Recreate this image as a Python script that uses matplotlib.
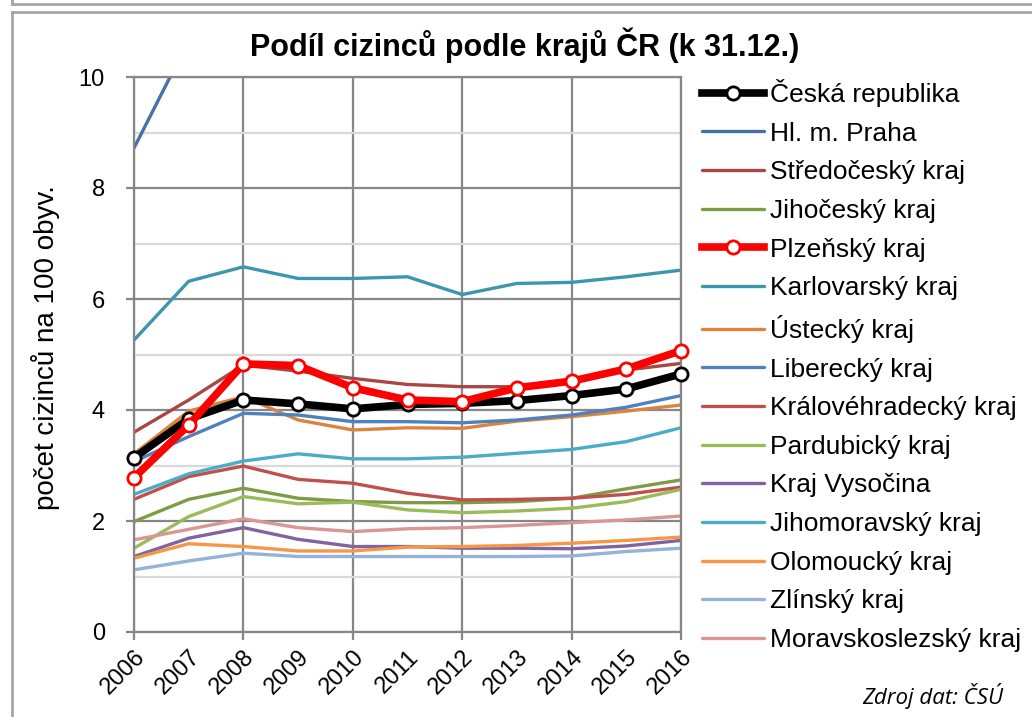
import matplotlib
matplotlib.use("Agg")
import matplotlib.pyplot as plt
from matplotlib.lines import Line2D

plt.rcParams["font.family"] = ["Liberation Sans", "DejaVu Sans"]

# data: podíl cizinců na 100 obyvatel
roky = list(range(2006, 2017))

ceska_republika = [3.14, 3.84, 4.18, 4.11, 4.02, 4.10, 4.12, 4.17, 4.26, 4.38, 4.65]
praha = [8.72, 10.66, 12.1, 12.2, 12.2, 13.1, 12.9, 13.1, 13.4, 13.9, 14.6]
stredocesky = [3.60, 4.18, 4.81, 4.70, 4.57, 4.46, 4.42, 4.42, 4.50, 4.72, 4.84]
jihocesky = [1.99, 2.39, 2.59, 2.41, 2.35, 2.33, 2.33, 2.35, 2.41, 2.58, 2.74]
plzensky = [2.78, 3.73, 4.83, 4.80, 4.40, 4.18, 4.15, 4.40, 4.52, 4.74, 5.07]
karlovarsky = [5.26, 6.32, 6.58, 6.37, 6.37, 6.40, 6.08, 6.28, 6.30, 6.40, 6.52]
ustecky = [3.21, 3.98, 4.24, 3.82, 3.64, 3.68, 3.67, 3.80, 3.88, 3.98, 4.09]
liberecky = [3.07, 3.52, 3.94, 3.91, 3.79, 3.79, 3.77, 3.82, 3.91, 4.05, 4.26]
kralovehradecky = [2.39, 2.80, 2.99, 2.75, 2.68, 2.50, 2.38, 2.39, 2.41, 2.48, 2.61]
pardubicky = [1.51, 2.08, 2.44, 2.31, 2.34, 2.20, 2.15, 2.18, 2.23, 2.35, 2.57]
vysocina = [1.36, 1.69, 1.88, 1.67, 1.54, 1.54, 1.51, 1.51, 1.50, 1.55, 1.65]
jihomoravsky = [2.48, 2.85, 3.08, 3.21, 3.12, 3.12, 3.15, 3.22, 3.29, 3.43, 3.68]
olomoucky = [1.33, 1.59, 1.54, 1.46, 1.46, 1.53, 1.54, 1.56, 1.60, 1.65, 1.71]
zlinsky = [1.12, 1.28, 1.42, 1.36, 1.36, 1.36, 1.36, 1.36, 1.37, 1.45, 1.51]
moravskoslezsky = [1.66, 1.85, 2.04, 1.88, 1.81, 1.86, 1.88, 1.92, 1.97, 2.02, 2.09]

serie = [
    ("Česká republika", ceska_republika, "#000000"),
    ("Hl. m. Praha", praha, "#4572A7"),
    ("Středočeský kraj", stredocesky, "#AA4643"),
    ("Jihočeský kraj", jihocesky, "#7F9C45"),
    ("Plzeňský kraj", plzensky, "#FF0000"),
    ("Karlovarský kraj", karlovarsky, "#3D96AE"),
    ("Ústecký kraj", ustecky, "#DB843D"),
    ("Liberecký kraj", liberecky, "#4F81BD"),
    ("Královéhradecký kraj", kralovehradecky, "#C0504D"),
    ("Pardubický kraj", pardubicky, "#9BBB59"),
    ("Kraj Vysočina", vysocina, "#8064A2"),
    ("Jihomoravský kraj", jihomoravsky, "#4BACC6"),
    ("Olomoucký kraj", olomoucky, "#F79646"),
    ("Zlínský kraj", zlinsky, "#95B3D7"),
    ("Moravskoslezský kraj", moravskoslezsky, "#D99694"),
]
zvyraznene = ["Česká republika", "Plzeňský kraj"]

W, H = 1032, 717
fig = plt.figure(figsize=(W / 100, H / 100), dpi=100)
ax = fig.add_axes([134 / W, 1 - 632 / H, (681 - 134) / W, (632 - 77) / H])

for nazev, hodnoty, barva in serie:
    if nazev in zvyraznene:
        ax.plot(roky, hodnoty, color=barva, lw=5.5, marker="o", ms=9.5,
                mfc="white", mec=barva, mew=2, label=nazev, clip_on=False,
                zorder=3)
    else:
        ax.plot(roky, hodnoty, color=barva, lw=2.4, label=nazev,
                solid_capstyle="round", zorder=2)

grid_c = "#878787"
ax.set_xlim(2006, 2016)
ax.set_ylim(0, 10)
ax.set_yticks(range(0, 11, 2))
ax.set_yticks(range(1, 10, 2), minor=True)
sude = [r for r in roky if r % 2 == 0]
liche = [r for r in roky if r % 2 == 1]
ax.set_xticks(sude, [str(r) for r in sude])
ax.set_xticks(liche, [str(r) for r in liche], minor=True)

ax.grid(True, which="major", color=grid_c, lw=1.6)
ax.grid(True, which="minor", axis="y", color="#D9D9D9", lw=1.6)
ax.set_axisbelow(True)
for s in ax.spines.values():
    s.set_color(grid_c)
    s.set_linewidth(1.6)

ax.tick_params(axis="both", which="major", direction="out", length=6,
               width=1.6, color=grid_c, labelsize=17, pad=4)
ax.tick_params(axis="both", which="minor", length=0, labelsize=17, pad=10)
ax.tick_params(axis="y", pad=15)
for lab in ax.get_xticklabels(which="both"):
    lab.set_rotation(45)
    lab.set_ha("right")
    lab.set_va("top")
    lab.set_rotation_mode("anchor")

fig.text(525 / W, 1 - 45 / H, "Podíl cizinců podle krajů ČR (k 31.12.)",
         ha="center", va="center", fontsize=22, fontweight="bold")
fig.text(46 / W, 1 - 348 / H, "počet cizinců na 100 obyv.", rotation=90,
         ha="center", va="center", fontsize=20)
fig.text(1003 / W, 1 - 696 / H, "Zdroj dat: ČSÚ", ha="right", va="center",
         fontsize=16, style="italic", family=["Open Sans", "DejaVu Sans"])

ax.legend(loc="upper left", bbox_to_anchor=(702 / W, 1 - 79 / H),
          bbox_transform=fig.transFigure, frameon=False, fontsize=19,
          handlelength=2.35, handletextpad=0.22, labelspacing=0.555,
          borderpad=0, borderaxespad=0)

# rámeček grafu
frame = dict(color="#A6A6A6", lw=2, transform=fig.transFigure)
fig.add_artist(Line2D([12 / W, 1], [1 - 4 / H, 1 - 4 / H], **frame))
fig.add_artist(Line2D([12 / W, 12 / W], [1, 1 - 4 / H], **frame))
fig.add_artist(Line2D([12 / W, 1], [1 - 12 / H, 1 - 12 / H], **frame))
fig.add_artist(Line2D([12 / W, 12 / W], [0, 1 - 12 / H], **frame))

fig.savefig("out.png", dpi=100, facecolor="white")
